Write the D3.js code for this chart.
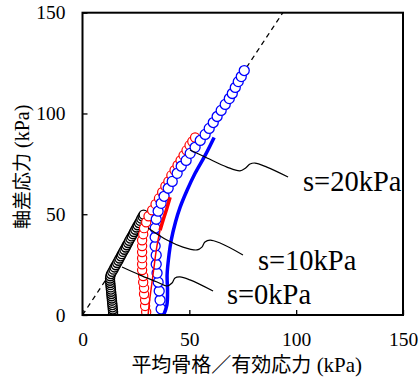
<!DOCTYPE html>
<html>
<head>
<meta charset="utf-8">
<script src="https://cdn.jsdelivr.net/npm/d3@7"></script>
<style>
  body { margin: 0; background: #fff; }
  svg { display: block; }
</style>
</head>
<body>
<svg width="420" height="383"></svg>
<script>
// tick values
var xTicks = [0, 50, 100, 150];
var yTicks = [0, 50, 100, 150];

// critical state line q = M p
var slopeM = 1.6;

// s=0kPa (black circles)
var s0P = [14.3, 14.3, 14.2, 14.1, 14.0, 13.9, 13.8, 13.7, 13.6, 13.5, 13.4, 13.3, 13.2, 13.1, 13.0, 12.9, 12.9, 13.0, 13.3,
  13.9, 14.5, 15.0, 15.6, 16.2, 16.8, 17.3, 17.9, 18.4, 19.0, 19.6, 20.2, 20.7, 21.3, 21.8, 22.4, 23.0, 23.6, 24.1, 24.7,
  25.3, 25.8, 26.4, 27.0, 27.5, 28.1, 28.6];
var s0Q = [0.5, 1.6, 2.7, 3.8, 4.9, 6.0, 7.1, 8.2, 9.3, 10.4, 11.5, 12.6, 13.7, 14.8, 15.9, 17.0, 18.1, 19.2, 20.3,
  21.4, 22.5, 23.6, 24.7, 25.8, 26.9, 28.0, 29.1, 30.2, 31.3, 32.4, 33.5, 34.6, 35.7, 36.8, 37.9, 39.0, 40.1, 41.2, 42.3,
  43.4, 44.5, 45.6, 46.7, 47.8, 48.9, 49.8];

// s=10kPa (red circles)
var s10P = [29.8, 29.3, 29.3, 28.8, 28.8, 28.4, 28.4, 27.9, 27.9, 27.9, 27.9, 27.9, 27.9, 28.4, 28.8, 29.8,
  30.9, 32.6, 34.2, 35.8, 37.3, 38.8, 40.2, 41.6, 43.1, 44.5, 45.9, 47.3, 48.7, 50.1, 51.4, 52.7];
var s10Q = [1.5, 4.5, 7.4, 10.4, 13.4, 16.3, 19.3, 22.3, 25.2, 28.2, 31.2, 34.2, 37.1, 40.1, 43.1, 46.0,
  49.0, 52.0, 55.0, 57.9, 60.9, 63.9, 66.3, 69.3, 71.8, 74.3, 76.7, 79.2, 81.7, 84.2, 86.1, 88.1];

// s=20kPa (blue circles)
var s20P = [36.8, 36.3, 35.9, 35.4, 34.9, 34.5, 34.5, 34.0, 34.0, 34.0, 34.5, 35.4, 36.8, 38.2, 40.1, 42.0,
  44.3, 46.2, 48.5, 50.4, 52.7, 55.1, 57.4, 59.3, 61.2, 63.0, 64.9, 66.8, 68.7, 70.1, 71.5, 72.9, 74.3, 75.7];
var s20Q = [3.0, 7.4, 11.9, 16.3, 20.8, 25.2, 29.7, 34.2, 38.6, 43.1, 47.5, 51.5, 55.4, 58.9, 62.9, 66.3,
  70.3, 73.8, 76.7, 80.2, 83.2, 86.6, 89.6, 92.6, 95.5, 98.5, 101.5, 104.5, 107.4, 109.9, 112.9, 115.8, 118.3, 121.3];

// lines
var line0P = [14.9, 14.6, 14.2, 14.0, 20.0, 29.8];
var line0Q = [0, 8, 16, 19.5, 32, 50.8];
var line10P = [30.7, 31.5, 32.5, 33.5, 34.5, 35.5, 36.3];
var line10Q = [0, 8, 16, 24, 32, 38, 42];
var line10bP = [36.3, 38.0, 39.5, 41.0];
var line10bQ = [42, 48, 53, 58.4];
var line20P = [38.0, 39.5, 39.8, 39.6, 40.5, 41.5, 43.5, 45.7, 49.0, 52.7, 57.4, 61.6];
var line20Q = [0, 5, 12, 20, 30, 37, 46, 53.5, 62, 70.3, 79.2, 88.1];

// leader lines and labels
var labels = ["s=20kPa", "s=10kPa", "s=0kPa"];
var labelP = [103.2, 82.1, 67.6];
var labelQ = [61.5, 22.3, 5.5];
var lead20P = [50.3, 58.3, 67.6, 73.7, 76.2, 78.4, 80.7, 86.3, 96.2];
var lead20Q = [81.9, 77.9, 73.4, 71.5, 72.8, 74.9, 75.4, 73.4, 68.5];
var lead10P = [30.7, 39.5, 47.0, 53.6, 55.9, 57.3, 59.7, 64.4, 75.1];
var lead10Q = [43.2, 37.2, 33.7, 32.3, 33.7, 36.2, 37.2, 35.7, 29.8];
var lead0P = [18.5, 26.9, 34.9, 39.5, 41.9, 43.3, 45.6, 50.3, 61.1];
var lead0Q = [23.8, 19.8, 16.4, 14.4, 15.9, 18.4, 18.9, 17.4, 11.9];

var serif = "'Liberation Serif', 'Times New Roman', serif";
var cjk = "'Noto Sans CJK JP', sans-serif";

var svg = d3.select("svg");
var mLeft = 82.5, mRight = 403, mTop = 12.7, mBottom = 315;

var x = d3.scaleLinear().domain([0, 150]).range([mLeft, mRight]);
var y = d3.scaleLinear().domain([0, 150]).range([mBottom, mTop]);

function pts(P, Q) {
  return P.map(function (p, i) { return [p, Q[i]]; });
}
var lineGen = d3.line().x(function (d) { return x(d[0]); }).y(function (d) { return y(d[1]); });

svg.append("clipPath").attr("id", "plot")
  .append("rect").attr("x", mLeft).attr("y", mTop).attr("width", mRight - mLeft).attr("height", mBottom - mTop);

var plot = svg.append("g").attr("clip-path", "url(#plot)");

// dashed line
plot.append("path")
  .attr("d", lineGen([[0, 0], [150 / slopeM, 150]]))
  .attr("fill", "none").attr("stroke", "#000").attr("stroke-width", 1.3)
  .attr("stroke-dasharray", "5,4");

// black line underneath
plot.append("path").attr("d", lineGen(pts(line0P, line0Q)))
  .attr("fill", "none").attr("stroke", "#000").attr("stroke-width", 1.2);

function circles(P, Q, color, r, sw) {
  plot.append("g").selectAll("circle")
    .data(pts(P, Q))
    .enter().append("circle")
    .attr("cx", function (d) { return x(d[0]); })
    .attr("cy", function (d) { return y(d[1]); })
    .attr("r", r)
    .attr("fill", "#fff")
    .attr("stroke", color)
    .attr("stroke-width", sw);
}
circles(s0P, s0Q, "#000", 4.5, 1.4);
circles(s10P, s10Q, "#ff0000", 4.6, 1.2);
circles(s20P, s20Q, "#0000ff", 5, 1.3);

var smooth = d3.line().curve(d3.curveCatmullRom)
  .x(function (d) { return x(d[0]); }).y(function (d) { return y(d[1]); });

plot.append("path").attr("d", smooth(pts(line10P, line10Q)))
  .attr("fill", "none").attr("stroke", "#ff0000").attr("stroke-width", 1.5);
plot.append("path").attr("d", smooth(pts(line10bP, line10bQ)))
  .attr("fill", "none").attr("stroke", "#ff0000").attr("stroke-width", 3.5);
plot.append("path").attr("d", smooth(pts(line20P, line20Q)))
  .attr("fill", "none").attr("stroke", "#0000ff").attr("stroke-width", 3.5);

// leaders
[[lead20P, lead20Q], [lead10P, lead10Q], [lead0P, lead0Q]].forEach(function (l) {
  plot.append("path").attr("d", smooth(pts(l[0], l[1])))
    .attr("fill", "none").attr("stroke", "#000").attr("stroke-width", 1.2);
});

svg.selectAll(".lbl")
  .data(labels)
  .enter().append("text")
  .attr("class", "lbl")
  .attr("x", function (d, i) { return x(labelP[i]); })
  .attr("y", function (d, i) { return y(labelQ[i]); })
  .attr("font-family", serif)
  .attr("font-size", "28.5px")
  .attr("fill", "#000")
  .text(function (d) { return d; });

// axes
var xAxis = svg.append("g").attr("transform", "translate(0," + mBottom + ")")
  .call(d3.axisBottom(x).tickValues(xTicks).tickSize(-5).tickPadding(17).tickFormat(d3.format("d")));
var yAxis = svg.append("g").attr("transform", "translate(" + mLeft + ",0)")
  .call(d3.axisLeft(y).tickValues(yTicks).tickSize(-5).tickPadding(17).tickFormat(d3.format("d")));
[xAxis, yAxis].forEach(function (a) {
  a.select(".domain").remove();
  a.selectAll("line").attr("stroke", "#000").attr("stroke-width", 1.3);
  a.selectAll("text").attr("font-family", serif).attr("font-size", "19.5px").attr("fill", "#000");
});

svg.append("rect")
  .attr("x", mLeft).attr("y", mTop).attr("width", mRight - mLeft).attr("height", mBottom - mTop)
  .attr("fill", "none").attr("stroke", "#000").attr("stroke-width", 2);

// axis titles
var xt = svg.append("text")
  .attr("x", (mLeft + mRight) / 2 + 4).attr("y", 372)
  .attr("text-anchor", "middle").attr("fill", "#000");
xt.append("tspan").attr("font-family", cjk).attr("font-size", "20px").text("平均骨格／有効応力");
xt.append("tspan").attr("font-family", serif).attr("font-size", "21px").text(" (kPa)");

var yt = svg.append("text")
  .attr("transform", "translate(29," + ((mTop + mBottom) / 2 + 3) + ") rotate(-90)")
  .attr("text-anchor", "middle").attr("fill", "#000");
yt.append("tspan").attr("font-family", cjk).attr("font-size", "19px").text("軸差応力");
yt.append("tspan").attr("font-family", serif).attr("font-size", "20px").text(" (kPa)");
</script>
</body>
</html>
